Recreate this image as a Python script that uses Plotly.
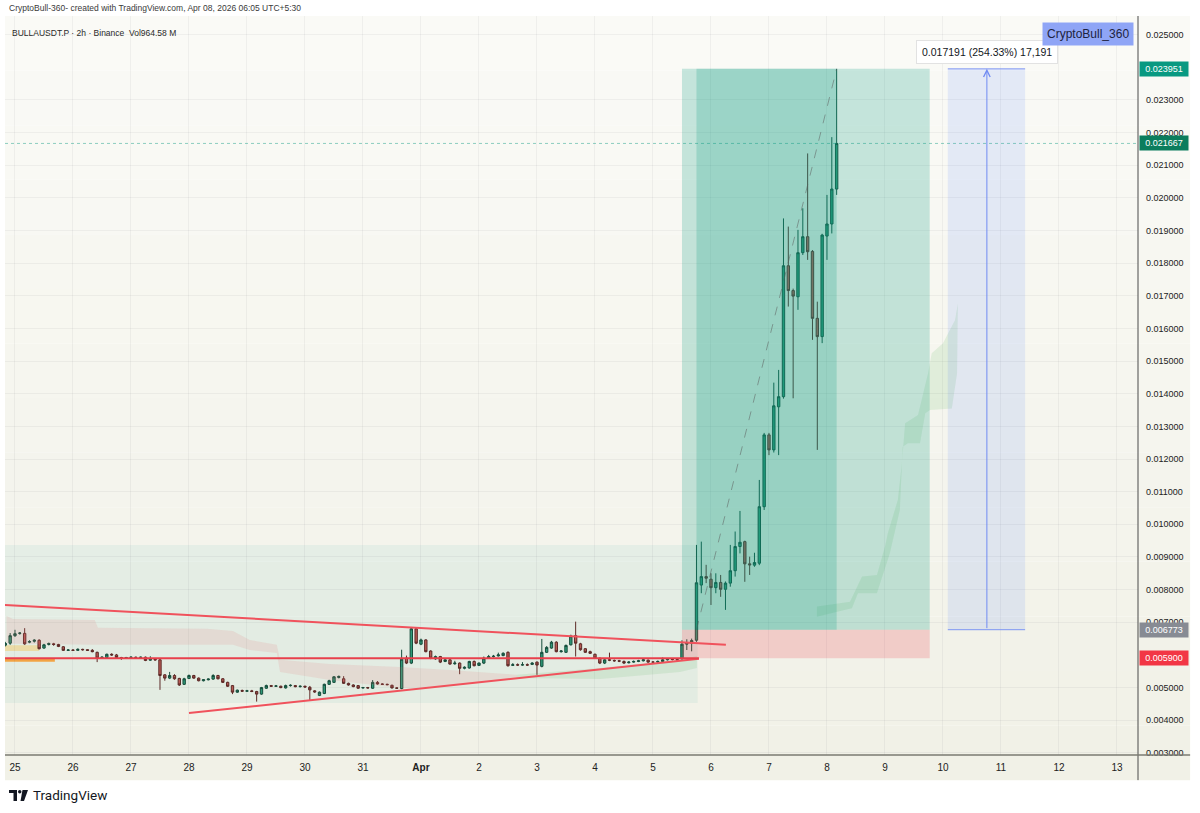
import plotly.graph_objects as go
import pandas as pd

# BULLAUSDT.P perpetual, Binance, 2h candles, chart time UTC+5:30
first_bar = "2026-03-24 21:30"

opens = [
    0.00630, 0.00636, 0.00659, 0.00666, 0.00666, 0.00639, 0.00642, 0.00645, 0.00621, 0.00632,
    0.00634, 0.00632, 0.00625, 0.00614, 0.00615, 0.00614, 0.00617, 0.00616, 0.00614, 0.00608,
    0.00590, 0.00592, 0.00602, 0.00600, 0.00592, 0.00590, 0.00592, 0.00593, 0.00592, 0.00593,
    0.00584, 0.00587, 0.00585, 0.00539, 0.00529, 0.00537, 0.00528, 0.00510, 0.00528, 0.00537,
    0.00529, 0.00521, 0.00524, 0.00526, 0.00537, 0.00527, 0.00516, 0.00506, 0.00486, 0.00491,
    0.00489, 0.00490, 0.00488, 0.00480, 0.00498, 0.00506, 0.00504, 0.00504, 0.00499, 0.00506,
    0.00506, 0.00503, 0.00504, 0.00501, 0.00490, 0.00476, 0.00482, 0.00510, 0.00516, 0.00531,
    0.00527, 0.00513, 0.00508, 0.00506, 0.00499, 0.00500, 0.00498, 0.00516, 0.00511, 0.00510,
    0.00507, 0.00499, 0.00497, 0.00590, 0.00575, 0.00680, 0.00633, 0.00646, 0.00612, 0.00588,
    0.00595, 0.00580, 0.00585, 0.00573, 0.00575, 0.00559, 0.00560, 0.00580, 0.00568, 0.00575,
    0.00590, 0.00595, 0.00597, 0.00598, 0.00608, 0.00568, 0.00570, 0.00569, 0.00570, 0.00571,
    0.00578, 0.00565, 0.00608, 0.00621, 0.00639, 0.00610, 0.00608, 0.00631, 0.00659, 0.00634,
    0.00619, 0.00610, 0.00602, 0.00590, 0.00575, 0.00585, 0.00583, 0.00582, 0.00580, 0.00576,
    0.00578, 0.00580, 0.00582, 0.00584, 0.00578, 0.00578, 0.00580, 0.00585, 0.00587, 0.00586,
    0.00588, 0.00633, 0.00636, 0.00645, 0.00814, 0.00840, 0.00832, 0.00806, 0.00822, 0.00801,
    0.00820, 0.00858, 0.00932, 0.00947, 0.00879, 0.00875, 0.00881, 0.01054, 0.01274, 0.01228,
    0.01360, 0.01391, 0.01792, 0.01716, 0.01697, 0.01832, 0.01881, 0.01836, 0.01631, 0.01575,
    0.01883, 0.01920, 0.02027,
]
highs = [
    0.00640, 0.00667, 0.00677, 0.00670, 0.00682, 0.00645, 0.00648, 0.00648, 0.00634, 0.00638,
    0.00637, 0.00634, 0.00627, 0.00618, 0.00618, 0.00620, 0.00619, 0.00617, 0.00618, 0.00610,
    0.00596, 0.00604, 0.00605, 0.00603, 0.00594, 0.00594, 0.00596, 0.00595, 0.00595, 0.00595,
    0.00596, 0.00590, 0.00590, 0.00541, 0.00548, 0.00541, 0.00530, 0.00530, 0.00540, 0.00539,
    0.00531, 0.00525, 0.00528, 0.00541, 0.00539, 0.00529, 0.00518, 0.00508, 0.00494, 0.00494,
    0.00493, 0.00493, 0.00490, 0.00502, 0.00509, 0.00508, 0.00508, 0.00506, 0.00509, 0.00510,
    0.00508, 0.00507, 0.00506, 0.00505, 0.00492, 0.00488, 0.00512, 0.00524, 0.00535, 0.00537,
    0.00535, 0.00515, 0.00510, 0.00508, 0.00502, 0.00502, 0.00523, 0.00520, 0.00513, 0.00512,
    0.00509, 0.00501, 0.00616, 0.00598, 0.00684, 0.00684, 0.00650, 0.00648, 0.00614, 0.00598,
    0.00597, 0.00588, 0.00587, 0.00582, 0.00577, 0.00565, 0.00582, 0.00583, 0.00577, 0.00595,
    0.00600, 0.00600, 0.00607, 0.00608, 0.00611, 0.00575, 0.00574, 0.00578, 0.00574, 0.00578,
    0.00580, 0.00649, 0.00627, 0.00643, 0.00642, 0.00615, 0.00632, 0.00662, 0.00702, 0.00637,
    0.00621, 0.00613, 0.00604, 0.00592, 0.00587, 0.00607, 0.00586, 0.00585, 0.00583, 0.00581,
    0.00583, 0.00585, 0.00590, 0.00586, 0.00581, 0.00583, 0.00592, 0.00590, 0.00590, 0.00588,
    0.00645, 0.00648, 0.00650, 0.00937, 0.00947, 0.00876, 0.00850, 0.00850, 0.00845, 0.00825,
    0.00937, 0.00978, 0.01041, 0.00950, 0.00901, 0.00913, 0.01136, 0.01280, 0.01280, 0.01434,
    0.01473, 0.01937, 0.01912, 0.01722, 0.01902, 0.01968, 0.02136, 0.01840, 0.01682, 0.01890,
    0.02009, 0.02186, 0.02395,
]
lows = [
    0.00626, 0.00631, 0.00655, 0.00662, 0.00631, 0.00636, 0.00638, 0.00617, 0.00619, 0.00629,
    0.00628, 0.00624, 0.00612, 0.00612, 0.00612, 0.00612, 0.00613, 0.00612, 0.00608, 0.00578,
    0.00588, 0.00589, 0.00597, 0.00590, 0.00585, 0.00588, 0.00589, 0.00589, 0.00590, 0.00581,
    0.00582, 0.00582, 0.00493, 0.00521, 0.00526, 0.00524, 0.00505, 0.00508, 0.00526, 0.00527,
    0.00519, 0.00519, 0.00522, 0.00524, 0.00525, 0.00514, 0.00502, 0.00480, 0.00484, 0.00487,
    0.00487, 0.00486, 0.00457, 0.00478, 0.00496, 0.00502, 0.00502, 0.00498, 0.00497, 0.00503,
    0.00501, 0.00500, 0.00499, 0.00462, 0.00484, 0.00474, 0.00480, 0.00508, 0.00514, 0.00528,
    0.00511, 0.00506, 0.00501, 0.00496, 0.00497, 0.00497, 0.00496, 0.00509, 0.00508, 0.00507,
    0.00497, 0.00496, 0.00495, 0.00572, 0.00572, 0.00633, 0.00630, 0.00608, 0.00587, 0.00585,
    0.00575, 0.00578, 0.00570, 0.00570, 0.00541, 0.00556, 0.00558, 0.00565, 0.00566, 0.00572,
    0.00588, 0.00592, 0.00595, 0.00596, 0.00564, 0.00566, 0.00566, 0.00567, 0.00566, 0.00569,
    0.00539, 0.00562, 0.00606, 0.00619, 0.00608, 0.00607, 0.00606, 0.00629, 0.00595, 0.00613,
    0.00606, 0.00603, 0.00588, 0.00572, 0.00572, 0.00581, 0.00579, 0.00578, 0.00572, 0.00574,
    0.00576, 0.00578, 0.00580, 0.00576, 0.00575, 0.00576, 0.00578, 0.00583, 0.00583, 0.00582,
    0.00586, 0.00615, 0.00611, 0.00640, 0.00789, 0.00820, 0.00753, 0.00789, 0.00778, 0.00738,
    0.00809, 0.00840, 0.00911, 0.00824, 0.00845, 0.00870, 0.00875, 0.01044, 0.01212, 0.01220,
    0.01212, 0.01385, 0.01667, 0.01386, 0.01657, 0.01825, 0.01810, 0.01565, 0.01228, 0.01555,
    0.01810, 0.01891, 0.02009,
]
closes = [
    0.00635, 0.00659, 0.00665, 0.00667, 0.00634, 0.00641, 0.00645, 0.00619, 0.00631, 0.00635,
    0.00632, 0.00626, 0.00614, 0.00615, 0.00614, 0.00617, 0.00616, 0.00614, 0.00610, 0.00590,
    0.00593, 0.00602, 0.00600, 0.00592, 0.00590, 0.00592, 0.00593, 0.00592, 0.00593, 0.00583,
    0.00587, 0.00585, 0.00537, 0.00529, 0.00537, 0.00527, 0.00508, 0.00527, 0.00537, 0.00529,
    0.00521, 0.00524, 0.00526, 0.00537, 0.00527, 0.00516, 0.00504, 0.00486, 0.00492, 0.00489,
    0.00490, 0.00488, 0.00480, 0.00500, 0.00506, 0.00504, 0.00505, 0.00500, 0.00506, 0.00507,
    0.00503, 0.00504, 0.00502, 0.00493, 0.00487, 0.00486, 0.00510, 0.00521, 0.00533, 0.00534,
    0.00513, 0.00508, 0.00503, 0.00498, 0.00500, 0.00499, 0.00516, 0.00511, 0.00510, 0.00509,
    0.00499, 0.00498, 0.00587, 0.00575, 0.00680, 0.00636, 0.00646, 0.00610, 0.00590, 0.00595,
    0.00578, 0.00585, 0.00572, 0.00575, 0.00559, 0.00562, 0.00580, 0.00567, 0.00575, 0.00590,
    0.00595, 0.00596, 0.00600, 0.00605, 0.00567, 0.00570, 0.00569, 0.00570, 0.00569, 0.00575,
    0.00569, 0.00608, 0.00623, 0.00639, 0.00610, 0.00612, 0.00629, 0.00658, 0.00636, 0.00616,
    0.00608, 0.00605, 0.00590, 0.00575, 0.00585, 0.00584, 0.00582, 0.00581, 0.00575, 0.00578,
    0.00580, 0.00582, 0.00585, 0.00578, 0.00578, 0.00580, 0.00585, 0.00587, 0.00586, 0.00585,
    0.00633, 0.00637, 0.00644, 0.00821, 0.00840, 0.00835, 0.00806, 0.00822, 0.00801, 0.00820,
    0.00858, 0.00932, 0.00945, 0.00879, 0.00876, 0.00883, 0.01054, 0.01274, 0.01228, 0.01363,
    0.01391, 0.01792, 0.01716, 0.01699, 0.01832, 0.01881, 0.01835, 0.01631, 0.01575, 0.01886,
    0.01920, 0.02027, 0.021667,
]

day_ticks = pd.date_range("2026-03-25 01:30", "2026-04-13 01:30", freq="D")
day_labels = ["25", "26", "27", "28", "29", "30", "31", "<b>Apr</b>", "2", "3", "4", "5",
              "6", "7", "8", "9", "10", "11", "12", "13"]
# 0.006 and 0.024 sit under the price tags, so they are left out
price_ticks = [0.003, 0.004, 0.005, 0.007, 0.008, 0.009, 0.010, 0.011, 0.012, 0.013,
               0.014, 0.015, 0.016, 0.017, 0.018, 0.019, 0.020, 0.021, 0.022, 0.023, 0.025]

# long position tool
entry_price = 0.006773
target_price = 0.023951
stop_price = 0.005900
pos_start, pos_end = "2026-04-05 13:30", "2026-04-09 20:00"
pos_fill_start, pos_fill_end = "2026-04-05 19:30", "2026-04-08 05:30"

# price range tool
range_start, range_mid, range_end = "2026-04-10 03:30", "2026-04-10 19:40", "2026-04-11 11:30"
range_text = "0.017191 (254.33%) 17,191"

# triangle / support drawings
upper_tl_t = ["2026-03-24 21:20", "2026-04-06 07:40"]
upper_tl_p = [0.00753, 0.00631]
lower_tl_t = ["2026-03-28 01:30", "2026-04-05 20:30"]
lower_tl_p = [0.00422, 0.00588]
support_t = ["2026-03-24 21:20", "2026-04-05 20:30"]
support_p = 0.0059

mint_t = ["2026-03-24 21:20", "2026-04-05 20:00"]
mint_p = [0.00453, 0.00937]
yellow_t = ["2026-03-24 21:20", "2026-03-25 11:30"]
yellow_p = [0.00612, 0.00630]
orange_t = ["2026-03-24 21:20", "2026-03-25 18:00"]
orange_p = [0.00579, 0.00590]

# ichimoku cloud (bearish part)
red_cloud_t = ["2026-03-24 22:00", "2026-03-25 00:40", "2026-03-26 10:30", "2026-03-26 11:50",
               "2026-03-28 09:00", "2026-03-28 19:40", "2026-03-29 02:40", "2026-03-29 13:50",
               "2026-03-29 15:10", "2026-03-30 11:50", "2026-03-31 16:50", "2026-04-01 13:30",
               "2026-04-02 17:10"]
red_cloud_top = [0.00719, 0.00710, 0.00707, 0.00683, 0.00680, 0.00673, 0.00646, 0.00631,
                 0.00585, 0.00572, 0.00563, 0.00554, 0.00539]
red_cloud_bot = [0.00637, 0.00634, 0.00631, 0.00631, 0.00631, 0.00631, 0.00615, 0.00606,
                 0.00548, 0.00523, 0.00499, 0.00505, 0.00529]
# bullish part before breakout
green_cloud_t = ["2026-04-02 17:10", "2026-04-04 03:40", "2026-04-05 12:40", "2026-04-05 19:40"]
green_cloud_top = [0.00539, 0.00560, 0.00585, 0.00597]
green_cloud_bot = [0.00529, 0.00526, 0.00548, 0.00560]
# projected cloud
fut_up_t = ["2026-04-07 21:20", "2026-04-08 05:40", "2026-04-08 11:00", "2026-04-08 16:00",
            "2026-04-08 22:10", "2026-04-09 01:30", "2026-04-09 02:40", "2026-04-09 06:50",
            "2026-04-09 08:30", "2026-04-09 09:50", "2026-04-09 15:10", "2026-04-09 19:20",
            "2026-04-09 20:50", "2026-04-10 01:30", "2026-04-10 06:30", "2026-04-10 07:40"]
fut_up_p = [0.00748, 0.00758, 0.00763, 0.00840, 0.00845, 0.00932, 0.00973, 0.01075,
            0.01187, 0.01310, 0.01335, 0.01463, 0.01524, 0.01555, 0.01626, 0.01677]
fut_lo_t = ["2026-04-07 21:20", "2026-04-08 11:50", "2026-04-08 14:20", "2026-04-08 22:10",
            "2026-04-09 03:30", "2026-04-09 07:40", "2026-04-09 08:50", "2026-04-09 11:00",
            "2026-04-09 16:00", "2026-04-09 18:10", "2026-04-09 20:10", "2026-04-10 05:10",
            "2026-04-10 07:20", "2026-04-10 07:40"]
fut_lo_p = [0.00717, 0.00743, 0.00789, 0.00789, 0.00911, 0.01044, 0.01238, 0.01248,
            0.01248, 0.01340, 0.01350, 0.01355, 0.01463, 0.01677]

times = pd.date_range(first_bar, periods=len(opens), freq="2h")

fig = go.Figure()


def cloud(t, top, bot, color):
    fig.add_trace(go.Scatter(x=list(t) + list(t)[::-1], y=list(top) + list(bot)[::-1],
                             fill="toself", fillcolor=color, mode="lines",
                             line=dict(width=0), hoverinfo="skip", showlegend=False))


cloud(red_cloud_t, red_cloud_top, red_cloud_bot, "rgba(229,115,115,0.14)")
cloud(green_cloud_t, green_cloud_top, green_cloud_bot, "rgba(76,175,80,0.12)")
fig.add_trace(go.Scatter(x=fut_up_t + fut_lo_t[::-1], y=fut_up_p + fut_lo_p[::-1],
                         fill="toself", fillcolor="rgba(76,175,80,0.13)", mode="lines",
                         line=dict(width=0), hoverinfo="skip", showlegend=False))

fig.add_trace(go.Candlestick(
    x=times, open=opens, high=highs, low=lows, close=closes,
    increasing=dict(fillcolor="#2f9a78", line=dict(color="#174d3c", width=1)),
    decreasing=dict(fillcolor="#b95a54", line=dict(color="#5c2a27", width=1)),
    hoverinfo="skip", showlegend=False,
))

# chart background (soft vertical gradient), behind everything
n_bands = 14
y_bot, y_top = -0.034, 1.0
for i in range(n_bands):
    f = i / (n_bands - 1)
    r = round(241 + (250 - 241) * f)
    g = round(241 + (250 - 241) * f)
    b = round(231 + (246 - 231) * f)
    fig.add_shape(type="rect", xref="paper", yref="paper", layer="below",
                  x0=0, x1=1.046,
                  y0=y_bot + (y_top - y_bot) * i / n_bands,
                  y1=y_bot + (y_top - y_bot) * (i + 1) / n_bands,
                  fillcolor=f"rgb({r},{g},{b})", line=dict(width=0))

fig.add_shape(type="rect", x0=mint_t[0], x1=mint_t[1], y0=mint_p[0], y1=mint_p[1],
              fillcolor="rgba(8,153,129,0.06)", line=dict(width=0), layer="below")
fig.add_shape(type="rect", x0=yellow_t[0], x1=yellow_t[1], y0=yellow_p[0], y1=yellow_p[1],
              fillcolor="rgba(245,200,90,0.45)", line=dict(width=0), layer="below")
fig.add_shape(type="rect", x0=orange_t[0], x1=orange_t[1], y0=orange_p[0], y1=orange_p[1],
              fillcolor="rgba(245,150,40,0.85)", line=dict(width=0), layer="below")

# long position
fig.add_shape(type="rect", x0=pos_start, x1=pos_end, y0=entry_price, y1=target_price,
              fillcolor="rgba(8,153,129,0.22)", line=dict(width=0), layer="above")
fig.add_shape(type="rect", x0=pos_start, x1=pos_end, y0=stop_price, y1=entry_price,
              fillcolor="rgba(242,54,69,0.2)", line=dict(width=0), layer="above")
fig.add_shape(type="rect", x0=pos_fill_start, x1=pos_fill_end, y0=entry_price, y1=target_price,
              fillcolor="rgba(8,153,129,0.22)", line=dict(width=0), layer="above")
fig.add_shape(type="line", x0=pos_fill_start, x1=pos_fill_end, y0=entry_price, y1=target_price,
              line=dict(color="rgba(90,90,90,0.5)", width=1, dash="dash"), layer="above")

# price range
fig.add_shape(type="rect", x0=range_start, x1=range_end, y0=entry_price, y1=target_price,
              fillcolor="rgba(41,98,255,0.1)", line=dict(width=0), layer="above")
for p in (entry_price, target_price):
    fig.add_shape(type="line", x0=range_start, x1=range_end, y0=p, y1=p,
                  line=dict(color="#7d95f3", width=1), layer="above")
fig.add_annotation(x=range_mid, y=target_price, ax=range_mid, ay=entry_price,
                   axref="x", ayref="y", text="", showarrow=True, arrowhead=5,
                   arrowsize=1.3, arrowwidth=1, arrowcolor="#6f8af2")
fig.add_annotation(x=range_mid, y=target_price, yanchor="bottom", yshift=5,
                   text=range_text, showarrow=False, bgcolor="#ffffff",
                   bordercolor="#e2e2e2", borderwidth=1, borderpad=5,
                   font=dict(size=10.5, color="#131722"))

# trendlines
fig.add_shape(type="line", x0=upper_tl_t[0], x1=upper_tl_t[1], y0=upper_tl_p[0], y1=upper_tl_p[1],
              line=dict(color="#f0525c", width=2), layer="above")
fig.add_shape(type="line", x0=lower_tl_t[0], x1=lower_tl_t[1], y0=lower_tl_p[0], y1=lower_tl_p[1],
              line=dict(color="#f0525c", width=2), layer="above")
fig.add_shape(type="line", x0=support_t[0], x1=support_t[1], y0=support_p, y1=support_p,
              line=dict(color="#e8404c", width=2), layer="above")

# last price line
fig.add_shape(type="line", xref="paper", x0=0, x1=1, y0=closes[-1], y1=closes[-1],
              line=dict(color="rgba(8,153,129,0.45)", width=1, dash="dot"), layer="above")

# right axis price tags
tags = [(target_price, "#089981"), (closes[-1], "#0b7d5d"), (entry_price, "#878b93"),
        (stop_price, "#f23645")]
for p, c in tags:
    fig.add_annotation(xref="paper", x=1, xanchor="left", xshift=1, y=p, yanchor="middle",
                       text=f"{p:.6f}", showarrow=False, bgcolor=c, width=46, height=12,
                       borderpad=1, font=dict(size=9, color="#ffffff"))

# panel separators
fig.add_shape(type="line", xref="paper", yref="paper", x0=1, x1=1, y0=-0.034, y1=1,
              line=dict(color="#4b4b4b", width=1))
fig.add_shape(type="line", xref="paper", yref="paper", x0=0, x1=1.046, y0=0, y1=0,
              line=dict(color="#7a7a72", width=1.5))

# header texts
narrow = "Liberation Sans Narrow, Liberation Sans, Arial, sans-serif"
fig.add_annotation(xref="paper", yref="paper", x=0.002, y=1.0108, xanchor="left",
                   yanchor="middle", showarrow=False,
                   text="CryptoBull-360- created with TradingView.com, Apr 08, 2026 06:05 UTC+5:30",
                   font=dict(size=8.5, color="#3a3a3a", family=narrow))
fig.add_annotation(xref="paper", yref="paper", x=0.0045, y=0.977, xanchor="left",
                   yanchor="middle", showarrow=False,
                   text="BULLAUSDT.P · 2h · Binance  Vol964.58 M",
                   font=dict(size=8.5, color="#2a2a2a", family=narrow))
fig.add_annotation(xref="paper", yref="paper", x=0.9559, y=0.9763, xanchor="center",
                   yanchor="middle", showarrow=False, text="CryptoBull_360",
                   bgcolor="#8fa5f6", borderpad=4, font=dict(size=12, color="#1d2340"))


# TradingView logo
def px(x, y):
    return (x - 5) / 1133, (755 - y) / 739


lx0, ly0 = px(9, 790)
lx1, ly1 = px(17, 793)
fig.add_shape(type="rect", xref="paper", yref="paper", x0=lx0, x1=lx1, y0=ly1, y1=ly0,
              fillcolor="#131722", line=dict(width=0))
sx0, sy0 = px(13.5, 793)
sx1, sy1 = px(17, 801)
fig.add_shape(type="rect", xref="paper", yref="paper", x0=sx0, x1=sx1, y0=sy1, y1=sy0,
              fillcolor="#131722", line=dict(width=0))
cx0, cy0 = px(18, 790)
cx1, cy1 = px(21.5, 793.5)
fig.add_shape(type="circle", xref="paper", yref="paper", x0=cx0, x1=cx1, y0=cy1, y1=cy0,
              fillcolor="#131722", line=dict(width=0))
pts = [px(22.5, 790), px(28, 790), px(24, 801), px(20.5, 801)]
path = "M " + " L ".join(f"{a},{b}" for a, b in pts) + " Z"
fig.add_shape(type="path", xref="paper", yref="paper", path=path,
              fillcolor="#131722", line=dict(width=0))
fig.add_annotation(xref="paper", yref="paper", x=px(31, 0)[0], y=px(0, 795.5)[1],
                   xanchor="left", yanchor="middle", showarrow=False, text="TradingView",
                   font=dict(size=13.5, color="#131722", family="Roboto"))

fig.update_layout(
    width=1200, height=813,
    margin=dict(l=5, r=62, t=16, b=58),
    paper_bgcolor="#ffffff", plot_bgcolor="rgba(0,0,0,0)",
    font=dict(family="Liberation Sans, Arial, sans-serif", color="#131722"),
    showlegend=False,
    xaxis=dict(type="date", range=["2026-03-24 21:22", "2026-04-13 10:12"],
               tickvals=day_ticks, ticktext=day_labels, ticks="", ticklabelstandoff=5,
               showgrid=True, gridcolor="rgba(42,46,57,0.05)", zeroline=False,
               showline=False, rangeslider=dict(visible=False),
               tickfont=dict(size=10, color="#222222")),
    yaxis=dict(side="right", range=[0.002935, 0.02557], tickvals=price_ticks,
               tickformat=".6f", ticks="", ticklabelstandoff=7,
               showgrid=True, gridcolor="rgba(42,46,57,0.05)", zeroline=False,
               showline=False, tickfont=dict(size=9, color="#222222")),
)

fig.write_html("out.html", config={"displayModeBar": False},
               post_script="document.body.style.margin='0';")
